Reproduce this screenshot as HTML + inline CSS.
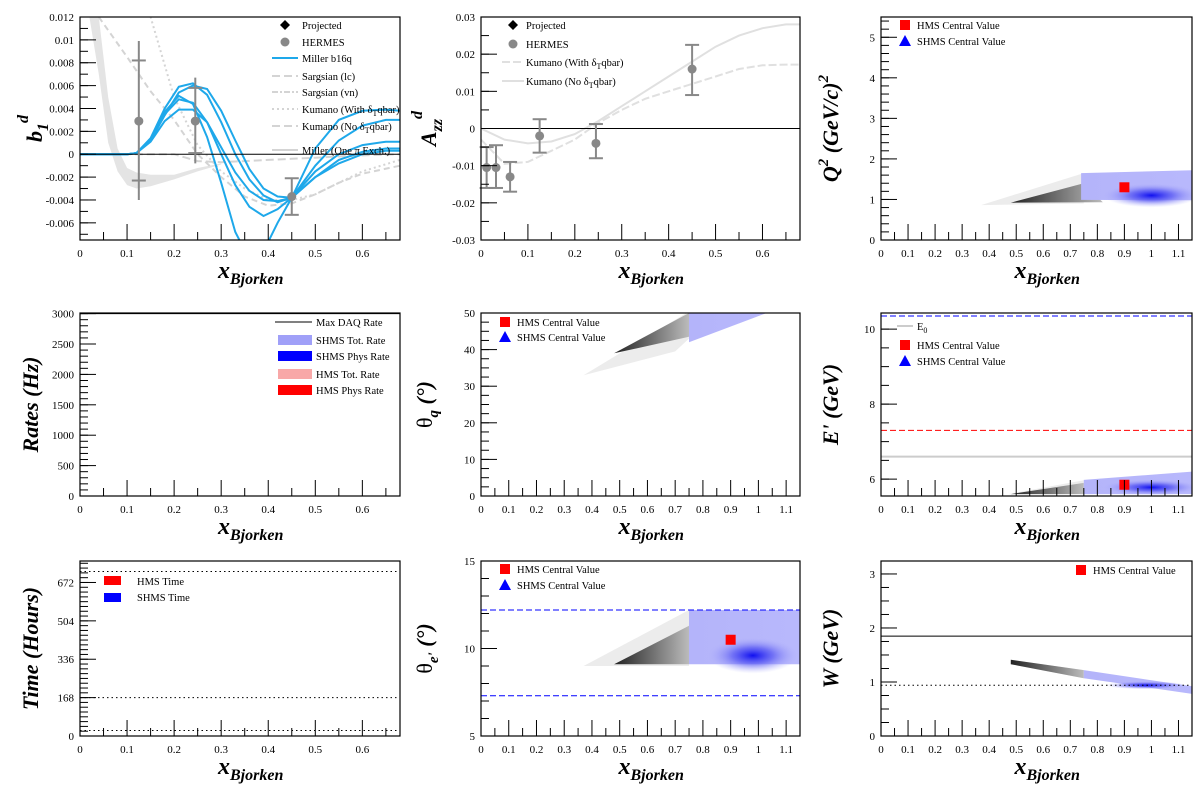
<!DOCTYPE html>
<html><head><meta charset="utf-8"><style>
html,body{margin:0;padding:0;background:#fff;}
svg{display:block;font-family:"Liberation Serif",serif;}
</style></head><body>
<svg id="c" width="1200" height="800" xmlns="http://www.w3.org/2000/svg">
<defs>
<linearGradient id="gd" x1="0" x2="1" y1="0" y2="0"><stop offset="0" stop-color="#222"/><stop offset="1" stop-color="#bbb"/></linearGradient>
<linearGradient id="gb" x1="0" x2="1" y1="0" y2="0"><stop offset="0" stop-color="#b4b4fa"/><stop offset="1" stop-color="#b8b8fc"/></linearGradient>
<radialGradient id="rb"><stop offset="0" stop-color="#1010f0"/><stop offset="0.45" stop-color="#6060f4" stop-opacity="0.8"/><stop offset="1" stop-color="#b0b0fa" stop-opacity="0"/></radialGradient>
</defs>
</svg>
<script>
// ---- data ----
const bX = [0,0.1,0.12,0.15,0.18,0.21,0.24,0.27,0.3,0.33,0.36,0.39,0.42,0.45,0.5,0.55,0.6,0.65,0.68];
const millerB1 = [0,0,0.0001,0.0013,0.0037,0.0051,0.0044,0.0015,-0.0025,-0.0068,-0.0092,-0.0085,-0.006,-0.0038,-0.002,-0.0008,0,0.0003,0.0003];
const millerB2 = [0,0,0.0001,0.0013,0.0035,0.0048,0.0045,0.0028,0,-0.0027,-0.0046,-0.0054,-0.0048,-0.0038,-0.0015,0,0.0008,0.0011,0.0011];
const millerB3 = [0,0,0.0001,0.0011,0.0029,0.0039,0.0039,0.0028,0.0006,-0.0016,-0.0032,-0.004,-0.0041,-0.0038,-0.001,0.0012,0.0025,0.003,0.003];
const millerB4 = [0,0,0.0001,0.0014,0.004,0.0059,0.0062,0.0052,0.0028,0,-0.0022,-0.0036,-0.0042,-0.0038,0.0005,0.003,0.0038,0.0039,0.0038];
const millerB5 = [0,0,0.0001,0.0012,0.0034,0.0054,0.006,0.0057,0.0038,0.0012,-0.0013,-0.003,-0.0037,-0.0038,-0.002,-0.0005,0.0002,0.0005,0.0005];
const bandX = [0.02,0.04,0.06,0.08,0.1,0.12,0.15,0.2,0.25,0.3];
const bandHi = [0.013,0.012,0.005,0.0005,-0.0012,-0.0016,-0.0018,-0.0018,-0.0012,-0.0008];
const bandLo = [0.012,0.007,0.001,-0.0015,-0.0027,-0.003,-0.0028,-0.0022,-0.0015,-0.0009];
const sgX = [0.04,0.1,0.15,0.2,0.25,0.3,0.35,0.4,0.45,0.5,0.55,0.6,0.68];
const sargLc = [0.012,0.0085,0.0055,0.003,0,-0.002,-0.0037,-0.0045,-0.0043,-0.0035,-0.0025,-0.0017,-0.001];
const kumWith = [0.03,0.03,0.012,0.005,0.0008,-0.0015,-0.003,-0.004,-0.004,-0.0035,-0.0025,-0.0015,-0.0005];
const kumNo = [0,0,0,0,-0.0006,-0.0007,-0.0006,-0.0005,-0.0004,-0.0003,-0.0002,-0.0001,0];
const hermesBx = [0.125,0.245,0.45];
const hermesBy = [0.0029,0.0029,-0.0037];
const hermesBstatLo = [-0.0023,0.0001,-0.0053];
const hermesBstatHi = [0.0082,0.0058,-0.0021];
const hermesBtotLo = [-0.004,-0.0008,-0.0053];
const hermesBtotHi = [0.0099,0.0067,-0.0021];
const azX = [0,0.05,0.1,0.15,0.2,0.25,0.3,0.35,0.4,0.45,0.5,0.55,0.6,0.65,0.68];
const azNo = [0,-0.003,-0.004,-0.0035,-0.0015,0.002,0.006,0.01,0.014,0.018,0.022,0.025,0.027,0.028,0.028];
const azWith = [-0.003,-0.0095,-0.009,-0.006,-0.003,0.0015,0.005,0.008,0.01,0.012,0.014,0.016,0.017,0.0172,0.0172];
const hermesAx = [0.012,0.032,0.062,0.125,0.245,0.45];
const hermesAy = [-0.0105,-0.0105,-0.013,-0.002,-0.004,0.016];
const hermesAlo = [-0.016,-0.016,-0.017,-0.0065,-0.008,0.009];
const hermesAhi = [-0.005,-0.0045,-0.009,0.0025,0.0012,0.0225];
const maxDaq = 3000;
const timeLines = [720,168,24];
const ePrimeLines = [10.35,7.3,6.6];
const thetaELines = [12.2,7.3];
const wLines = [1.85,0.94];
const hmsQ2 = [0.9,1.3], hmsEp = [0.9,5.85], hmsTe = [0.9,10.5];

const S = document.getElementById('c'), NS = 'http://www.w3.org/2000/svg';
function el(tag, attrs, parent){ const e=document.createElementNS(NS,tag); for(const k in attrs) e.setAttribute(k,attrs[k]); (parent||S).appendChild(e); return e; }
function panel(L,R,T,B,x0,x1,y0,y1){ return {L,R,T,B,x0,x1,y0,y1, X:v=>L+(v-x0)/(x1-x0)*(R-L), Y:v=>B-(v-y0)/(y1-y0)*(B-T)}; }
function axes(p, xt, yt, yfmt, ysub, name){
  const g = el('g',{});
  
  
  el('rect',{x:p.L,y:p.T,width:p.R-p.L,height:p.B-p.T,fill:'none',stroke:'#000','stroke-width':1.2},g);
  for(let i=0;i<xt.length;i++){
    const x=p.X(xt[i]);
    el('line',{x1:x,x2:x,y1:p.B,y2:p.B-16,stroke:'#000'},g);
    const t=el('text',{x:x,y:p.B+17,'font-size':11,'text-anchor':'middle'},g); t.textContent=String(xt[i]);
    const xm=p.X(xt[i]+0.05);
    if(xm<p.R) el('line',{x1:xm,x2:xm,y1:p.B,y2:p.B-8,stroke:'#000'},g);
  }
  for(let i=0;i<yt.length;i++){
    const y=p.Y(yt[i]);
    el('line',{x1:p.L,x2:p.L+16,y1:y,y2:y,stroke:'#000'},g);
    const t=el('text',{x:p.L-6,y:y+4,'font-size':11,'text-anchor':'end'},g); t.textContent=yfmt(yt[i]);
  }
  const step=yt[1]-yt[0];
  for(let v=yt[0]-step; v<=p.y1; v+=step/ysub){ const y=p.Y(v); if(y<=p.B&&y>=p.T) el('line',{x1:p.L,x2:p.L+8,y1:y,y2:y,stroke:'#000'},g); }
}
function xtitle(p,name){
  const cx=(p.L+p.R)/2+8;
  const t=el('text',{x:cx-30,y:p.B+38,'font-size':24,'font-weight':'bold','font-style':'italic'});
  
  
  t.innerHTML='x<tspan font-size="16" dy="6">Bjorken</tspan>';
}
function ytitle(p,html,name,x){
  const cy=(p.T+p.B)/2;
  const t=el('text',{x:0,y:0,'font-size':22,'font-weight':'bold','font-style':'italic','text-anchor':'middle',transform:`translate(${x},${cy}) rotate(-90)`});
  
  
  t.innerHTML=html;
}
function path(p,xs,ys,attrs){ let d=''; for(let i=0;i<xs.length;i++) d+=(i?'L':'M')+p.X(xs[i]).toFixed(1)+' '+p.Y(ys[i]).toFixed(1); return el('path',Object.assign({d:d,fill:'none'},attrs)); }
function poly(p,pts,fill){ return el('polygon',{points:pts.map(q=>p.X(q[0]).toFixed(1)+','+p.Y(q[1]).toFixed(1)).join(' '),fill:fill}); }
function txt(x,y,s,size){ const t=el('text',{x:x,y:y,'font-size':size||11}); t.innerHTML=s; return t; }
function hline(p,v,attrs){ return el('line',Object.assign({x1:p.L,x2:p.R,y1:p.Y(v),y2:p.Y(v)},attrs)); }
function clip(id,p){ const c=el('clipPath',{id:id}); el('rect',{x:p.L,y:p.T,width:p.R-p.L,height:p.B-p.T},c); }
const sq=(x,y,c)=>el('rect',{x:x-5,y:y-5,width:10,height:10,fill:c});
const tri=(x,y,c)=>el('polygon',{points:`${x-6},${y+5} ${x+6},${y+5} ${x},${y-6}`,fill:c});

const xs6=[0,0.1,0.2,0.3,0.4,0.5,0.6], xs11=[0,0.1,0.2,0.3,0.4,0.5,0.6,0.7,0.8,0.9,1,1.1];
const f=v=>String(+v.toFixed(4));

// ---- P1 b1 ----
const p1=panel(80,400,17,240,0,0.68,-0.0075,0.012); clip('c1',p1);
let g=el('g',{'clip-path':'url(#c1)'});


{ const pts=bandX.map((x,i)=>[x,bandHi[i]]).concat(bandX.map((x,i)=>[x,bandLo[i]]).reverse()); const e=poly(p1,pts,'#e4e4e4'); g.appendChild(e);   }
[[sargLc,'6,4'],[kumWith,'2,3'],[kumNo,'8,4']].forEach((c,i)=>{ const e=path(p1,sgX,c[0],{stroke:'#d4d4d4','stroke-width':2,'stroke-dasharray':c[1]}); g.appendChild(e);   });
[millerB1,millerB2,millerB3,millerB4,millerB5].forEach(c=>{ const e=path(p1,bX,c,{stroke:'#1ea8ea','stroke-width':2}); g.appendChild(e);   });
hline(p1,0,{stroke:'#000'});
hermesBx.forEach((x,i)=>{ const X=p1.X(x);
  el('line',{x1:X,x2:X,y1:p1.Y(hermesBtotLo[i]),y2:p1.Y(hermesBtotHi[i]),stroke:'#888','stroke-width':2});
  [hermesBstatLo[i],hermesBstatHi[i]].forEach(v=>el('line',{x1:X-7,x2:X+7,y1:p1.Y(v),y2:p1.Y(v),stroke:'#888','stroke-width':2}));
  const c=el('circle',{cx:X,cy:p1.Y(hermesBy[i]),r:4.5,fill:'#888'});
    });
axes(p1,xs6,[-0.006,-0.004,-0.002,0,0.002,0.004,0.006,0.008,0.01,0.012],f,2,'b1');
{ const lg=[[25,'Projected'],[42,'HERMES'],[58,'Miller b16q'],[76,'Sargsian (lc)'],[92,'Sargsian (vn)'],[109,'Kumano (With δ<tspan font-size="8" dy="3">T</tspan><tspan dy="-3">qbar)</tspan>'],[126,'Kumano (No δ<tspan font-size="8" dy="3">T</tspan><tspan dy="-3">qbar)</tspan>'],[150,'Miller (One π Exch.)']];
  lg.forEach((e,i)=>{ const t=txt(302,e[0]+4,e[1],10.5);   });
  el('polygon',{points:'285,20 290,25 285,30 280,25',fill:'#000'}); el('circle',{cx:285,cy:42,r:4.5,fill:'#888'});
  el('line',{x1:272,x2:298,y1:58,y2:58,stroke:'#1ea8ea','stroke-width':2});
  [[76,'8,4'],[92,'6,2,2,2'],[109,'2,3'],[126,'8,4'],[150,'']].forEach(e=>el('line',{x1:272,x2:298,y1:e[0],y2:e[0],stroke:'#d4d4d4','stroke-width':2,'stroke-dasharray':e[1]})); }
xtitle(p1,'b1'); ytitle(p1,'b<tspan font-size="16" dy="6">1</tspan><tspan font-size="16" dy="-20">d</tspan>','b1',42);

// ---- P2 Azz ----
const p2=panel(481,800,17,240,0,0.68,-0.03,0.03); clip('c2',p2);
g=el('g',{'clip-path':'url(#c2)'});


{ let e=path(p2,azX,azNo,{stroke:'#e0e0e0','stroke-width':2}); g.appendChild(e);  
  e=path(p2,azX,azWith,{stroke:'#e0e0e0','stroke-width':2,'stroke-dasharray':'8,3'}); g.appendChild(e);   }
hline(p2,0,{stroke:'#000'});
hermesAx.forEach((x,i)=>{ const X=p2.X(x);
  el('line',{x1:X,x2:X,y1:p2.Y(hermesAlo[i]),y2:p2.Y(hermesAhi[i]),stroke:'#888','stroke-width':2});
  [hermesAlo[i],hermesAhi[i]].forEach(v=>el('line',{x1:X-7,x2:X+7,y1:p2.Y(v),y2:p2.Y(v),stroke:'#888','stroke-width':2}));
  const c=el('circle',{cx:X,cy:p2.Y(hermesAy[i]),r:4.5,fill:'#888'});
    });
axes(p2,xs6,[-0.03,-0.02,-0.01,0,0.01,0.02,0.03],f,2,'azz');
el('polygon',{points:'513,20 518,25 513,30 508,25',fill:'#000'}); el('circle',{cx:513,cy:44,r:4.5,fill:'#888'});
el('line',{x1:502,x2:524,y1:62,y2:62,stroke:'#e0e0e0','stroke-width':2,'stroke-dasharray':'8,3'}); el('line',{x1:502,x2:524,y1:81,y2:81,stroke:'#e0e0e0','stroke-width':2});
[[25,'Projected'],[44,'HERMES'],[62,'Kumano (With δ<tspan font-size="8" dy="3">T</tspan><tspan dy="-3">qbar)</tspan>'],[81,'Kumano (No δ<tspan font-size="8" dy="3">T</tspan><tspan dy="-3">qbar)</tspan>']].forEach(e=>{ const t=txt(526,e[0]+4,e[1],10.5);   });
xtitle(p2,'azz'); ytitle(p2,'A<tspan font-size="16" dy="6">zz</tspan><tspan font-size="16" dy="-20">d</tspan>','azz',436);

function blobs(p,id,light,dark,blue,core){
  clip(id,p); const g=el('g',{'clip-path':`url(#${id})`});
  
  
  g.appendChild(poly(p,light,'#ececec')); g.appendChild(poly(p,dark,'url(#gd)')); g.appendChild(poly(p,blue,'url(#gb)'));
  if(core){ el('ellipse',{cx:p.X(core[0]),cy:p.Y(core[1]),rx:core[2],ry:core[3],fill:'url(#rb)'},g); }
  return g;
}
// ---- P3 Q2 ----
const p3=panel(881,1192,17,240,0,1.15,0,5.5);
blobs(p3,'c3',[[0.37,0.86],[0.75,1.65],[0.75,0.9]],[[0.48,0.92],[0.75,1.4],[0.82,0.93]],[[0.74,0.99],[0.74,1.65],[1.15,1.72],[1.15,0.98]],[1.0,1.1,48,12]);
sq(p3.X(hmsQ2[0]),p3.Y(hmsQ2[1]),'#f00');
axes(p3,xs11,[0,1,2,3,4,5],f,5,'q2');
sq(905,25,'#f00'); tri(905,41,'#00f');
txt(917,29,'HMS Central Value',10.5); txt(917,45,'SHMS Central Value',10.5);
xtitle(p3,'q2'); ytitle(p3,'Q<tspan font-size="15" dy="-10">2</tspan><tspan dy="10"> (GeV/c)</tspan><tspan font-size="15" dy="-10">2</tspan>','q2',838);

// ---- P4 rates ----
const p4=panel(80,400,313,496,0,0.68,0,3010);
hline(p4,maxDaq,{stroke:'#000'});
axes(p4,xs6,[0,500,1000,1500,2000,2500,3000],f,5,'rates');
el('line',{x1:275,x2:312,y1:322,y2:322,stroke:'#000'});
[[340,'#a0a0f8'],[356,'#0000ff'],[374,'#f8a8a8'],[390,'#ff0000']].forEach(e=>el('rect',{x:278,y:e[0]-5,width:34,height:10,fill:e[1]}));
[[322,'Max DAQ Rate'],[340,'SHMS Tot. Rate'],[356,'SHMS Phys Rate'],[374,'HMS Tot. Rate'],[390,'HMS Phys Rate']].forEach(e=>{ const t=txt(316,e[0]+4,e[1],10.5);   });
xtitle(p4,'rates'); ytitle(p4,'Rates (Hz)','rates',38);

// ---- P5 theta_q ----
const p5=panel(481,800,313,496,0,1.15,0,50);
blobs(p5,'c5',[[0.37,33],[0.74,50],[0.75,43],[0.7,39.5]],[[0.48,39],[0.75,50],[0.75,43.5]],[[0.75,50],[1.03,50],[0.75,42]],null);
axes(p5,xs11,[0,10,20,30,40,50],f,4,'thetaq');
sq(505,322,'#f00'); tri(505,337,'#00f'); txt(517,326,'HMS Central Value',10.5); txt(517,341,'SHMS Central Value',10.5);
xtitle(p5,'thetaq'); ytitle(p5,'<tspan font-weight="normal" font-style="normal">θ</tspan><tspan font-size="15" dy="6">q</tspan><tspan dy="-6"> (°)</tspan>','thetaq',432);

// ---- P6 E' ----
const p6=panel(881,1192,313,496,0,1.15,5.55,10.43);
blobs(p6,'c6',[[0.47,5.6],[0.75,5.97],[0.75,5.6]],[[0.48,5.6],[0.75,5.9],[0.75,5.6]],[[0.75,5.6],[0.75,5.98],[1.15,6.2],[1.15,5.6]],[1.0,5.78,48,8]);
hline(p6,ePrimeLines[0],{stroke:'#0000ff','stroke-dasharray':'6,3'});
hline(p6,ePrimeLines[1],{stroke:'#ff0000','stroke-dasharray':'6,3'});
hline(p6,ePrimeLines[2],{stroke:'#ccc','stroke-width':2});
sq(p6.X(hmsEp[0]),p6.Y(hmsEp[1]),'#f00');
axes(p6,xs11,[6,8,10],f,4,'eprime');
el('line',{x1:897,x2:913,y1:326,y2:326,stroke:'#ccc','stroke-width':2}); sq(905,345,'#f00'); tri(905,361,'#00f');
txt(917,330,'E<tspan font-size="8" dy="3">0</tspan>',10.5); txt(917,349,'HMS Central Value',10.5); txt(917,365,'SHMS Central Value',10.5);
xtitle(p6,'eprime'); ytitle(p6,"E' (GeV)",'eprime',838);

// ---- P7 time ----
const p7=panel(80,400,561,736,0,0.68,0,766);
timeLines.forEach(v=>hline(p7,v,{stroke:'#000','stroke-dasharray':'1.5,3'}));
axes(p7,xs6,[0,168,336,504,672],f,8,'time');
el('rect',{x:104,y:576,width:17,height:9,fill:'#f00'}); el('rect',{x:104,y:593,width:17,height:9,fill:'#00f'});
txt(137,585,'HMS Time',10.5); txt(137,601,'SHMS Time',10.5);
xtitle(p7,'time'); ytitle(p7,'Time (Hours)','time',38);

// ---- P8 theta_e ----
const p8=panel(481,800,561,736,0,1.15,5,15);
blobs(p8,'c8',[[0.37,9],[0.75,12.2],[0.75,9]],[[0.48,9.1],[0.75,11.3],[0.75,9.1]],[[0.75,9.1],[0.75,12.2],[1.15,12.2],[1.15,9.1]],[0.98,9.6,45,18]);
thetaELines.forEach(v=>hline(p8,v,{stroke:'#0000ff','stroke-dasharray':'6,3'}));
sq(p8.X(hmsTe[0]),p8.Y(hmsTe[1]),'#f00');
axes(p8,xs11,[5,10,15],f,5,'thetae');
sq(505,569,'#f00'); tri(505,585,'#00f'); txt(517,573,'HMS Central Value',10.5); txt(517,589,'SHMS Central Value',10.5);
xtitle(p8,'thetae'); ytitle(p8,"<tspan font-weight=\"normal\" font-style=\"normal\">θ</tspan><tspan font-size=\"15\" dy=\"6\">e'</tspan><tspan dy=\"-6\"> (°)</tspan>",'thetae',432);

// ---- P9 W ----
const p9=panel(881,1192,561,736,0,1.15,0,3.24);
blobs(p9,'c9',[[0.48,1.41],[0.75,1.22],[0.75,1.07],[0.48,1.33]],[[0.48,1.41],[0.75,1.22],[0.75,1.07],[0.48,1.33]],[[0.75,1.22],[1.15,0.92],[1.15,0.78],[0.75,1.07]],[0.98,0.94,40,4]);
hline(p9,wLines[0],{stroke:'#000'});
hline(p9,wLines[1],{stroke:'#000','stroke-dasharray':'1.5,3'});
axes(p9,xs11,[0,1,2,3],f,4,'w');
sq(1081,570,'#f00'); txt(1093,574,'HMS Central Value',10.5);
xtitle(p9,'w'); ytitle(p9,'W (GeV)','w',838);
</script>
</body></html>
